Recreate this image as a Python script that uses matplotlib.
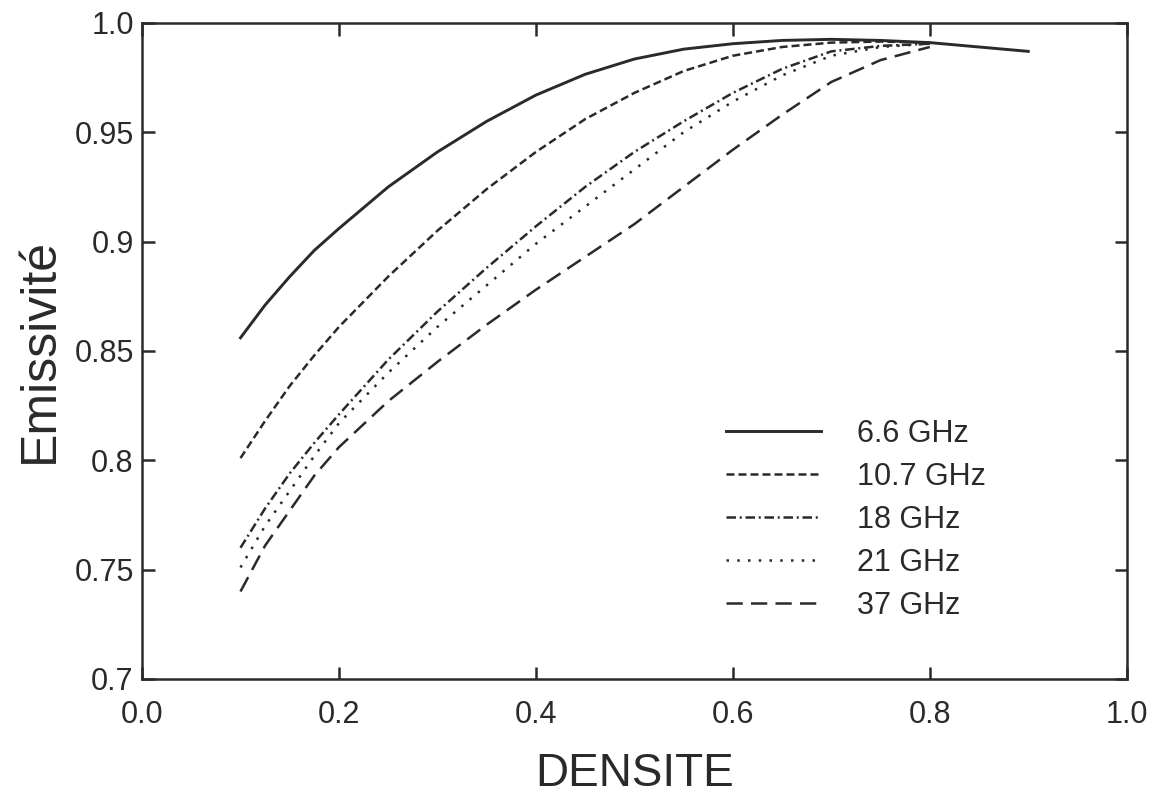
import matplotlib
matplotlib.use("Agg")
import matplotlib.pyplot as plt

plt.rcParams['font.family'] = ['Liberation Sans', 'DejaVu Sans']

ink = "#2a2a2a"

# densite (x) and emissivite per frequency
dens = [0.10, 0.125, 0.15, 0.175, 0.20, 0.25, 0.30, 0.35, 0.40, 0.45, 0.50,
        0.55, 0.60, 0.65, 0.70, 0.75, 0.80]
dens_66 = dens + [0.85, 0.90]

em_66 = [0.856, 0.871, 0.884, 0.896, 0.906, 0.925, 0.941, 0.955, 0.967, 0.9765,
         0.9835, 0.988, 0.9905, 0.992, 0.9925, 0.992, 0.991, 0.989, 0.987]
em_107 = [0.801, 0.818, 0.834, 0.848, 0.861, 0.884, 0.905, 0.924, 0.941, 0.956,
          0.968, 0.978, 0.985, 0.989, 0.991, 0.9915, 0.991]
em_18 = [0.760, 0.778, 0.794, 0.808, 0.821, 0.846, 0.868, 0.888, 0.907, 0.925,
         0.941, 0.955, 0.968, 0.979, 0.987, 0.9895, 0.9905]
em_21 = [0.751, 0.770, 0.786, 0.802, 0.817, 0.840, 0.861, 0.880, 0.899, 0.916,
         0.933, 0.950, 0.964, 0.976, 0.985, 0.989, 0.9905]
em_37 = [0.740, 0.761, 0.777, 0.793, 0.806, 0.827, 0.845, 0.862, 0.878, 0.893,
         0.908, 0.925, 0.942, 0.958, 0.973, 0.983, 0.989]

labels = ["6.6 GHz", "10.7 GHz", "18 GHz", "21 GHz", "37 GHz"]

xticks = [0.0, 0.2, 0.4, 0.6, 0.8, 1.0]
xtick_labels = ["0.0", "0.2", "0.4", "0.6", "0.8", "1.0"]
yticks = [0.70, 0.75, 0.80, 0.85, 0.90, 0.95, 1.00]
ytick_labels = ["0.7", "0.75", "0.8", "0.85", "0.9", "0.95", "1.0"]

fig = plt.figure(figsize=(11.49, 8.02), dpi=100)
ax = fig.add_axes([0.1236, 0.1534, 0.857, 0.818])

lw = 1.8
ax.plot(dens_66, em_66, color=ink, lw=2.1, linestyle="-", label=labels[0])
ax.plot(dens, em_107, color=ink, lw=lw, linestyle=(0, (3.2, 1.6)), label=labels[1])
ax.plot(dens, em_18, color=ink, lw=lw, linestyle=(0, (3.8, 1.5, 0.8, 1.5)), label=labels[2])
ax.plot(dens, em_21, color=ink, lw=lw, linestyle=(0, (1.0, 3.3)), label=labels[3])
ax.plot(dens, em_37, color=ink, lw=lw, linestyle=(0, (6.5, 3.3)), label=labels[4])

ax.set_xlim(0.0, 1.0)
ax.set_ylim(0.7, 1.0)
ax.set_xticks(xticks)
ax.set_xticklabels(xtick_labels)
ax.set_yticks(yticks)
ax.set_yticklabels(ytick_labels)

ax.tick_params(axis="both", which="major", direction="in", length=9, width=1.8,
               color=ink, labelsize=22, labelcolor=ink,
               top=True, right=True)
ax.tick_params(axis="x", pad=15)
ax.tick_params(axis="y", pad=6)

for sp in ax.spines.values():
    sp.set_linewidth(1.8)
    sp.set_color(ink)

ax.set_xlabel("DENSITE", fontsize=33, color=ink, labelpad=16)
ax.set_ylabel("Emissivité", fontsize=36, color=ink, labelpad=8)

leg = ax.legend(loc="upper left", bbox_to_anchor=(0.593, 0.396), frameon=False,
                fontsize=22, handlelength=3.1, handletextpad=1.2,
                labelspacing=0.42, borderpad=0, borderaxespad=0)
for t in leg.get_texts():
    t.set_color(ink)

fig.savefig("out.png", dpi=100)
